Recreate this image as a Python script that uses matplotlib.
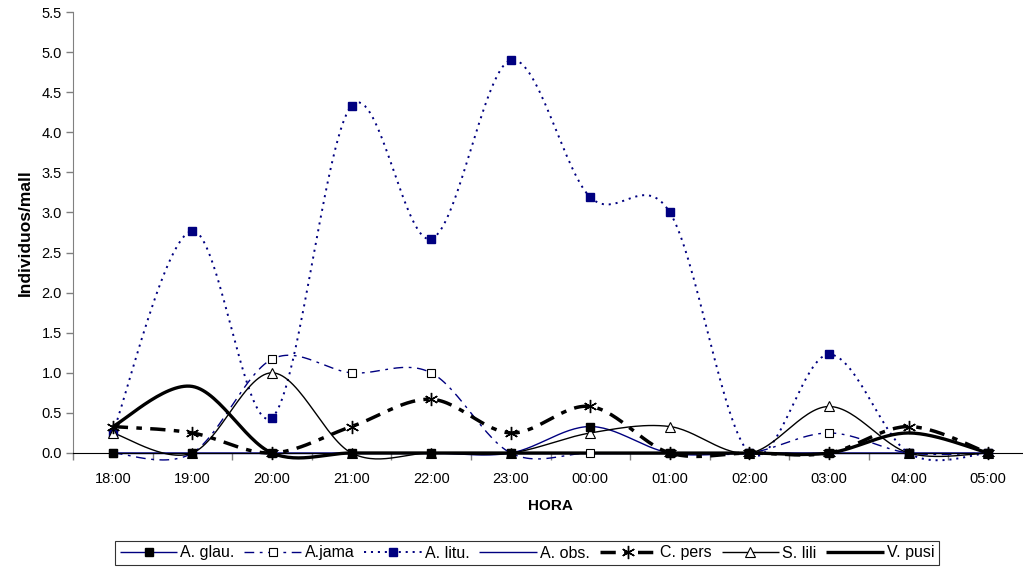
import numpy as np
import matplotlib
matplotlib.use("Agg")
import matplotlib.pyplot as plt
from matplotlib.lines import Line2D

plt.rcParams['font.family'] = ['Liberation Sans', 'DejaVu Sans']
plt.rcParams['lines.scale_dashes'] = False

horas = ["18:00", "19:00", "20:00", "21:00", "22:00", "23:00",
         "00:00", "01:00", "02:00", "03:00", "04:00", "05:00"]

a_glau = [0, 0, 0, 0, 0, 0, 0.33, 0, 0, 0, 0, 0]
a_jama = [0, 0, 1.17, 1.0, 1.0, 0, 0, 0, 0, 0.25, 0, 0]
a_litu = [0.25, 2.77, 0.44, 4.33, 2.67, 4.90, 3.19, 3.0, 0, 1.23, 0, 0]
a_obs = [0, 0, 0, 0, 0, 0, 0, 0, 0, 0, 0, 0]
c_pers = [0.33, 0.25, 0, 0.33, 0.67, 0.25, 0.58, 0, 0, 0, 0.33, 0]
s_lili = [0.25, 0, 1.0, 0, 0, 0, 0.25, 0.33, 0, 0.58, 0, 0]
v_pusi = [0.33, 0.83, 0, 0, 0, 0, 0, 0, 0, 0, 0.25, 0]

NSEG = 30


def smooth(values):
    """Catmull-Rom style Bezier smoothing through every point."""
    y = np.asarray(values, dtype=float)
    n = len(y)
    x = np.arange(n, dtype=float)
    px = np.concatenate([[x[0]], x, [x[-1]]])
    py = np.concatenate([[y[0]], y, [y[-1]]])
    xs, ys = [], []
    t = np.linspace(0, 1, NSEG, endpoint=False)
    for i in range(n - 1):
        p0 = np.array([px[i + 1], py[i + 1]])
        p3 = np.array([px[i + 2], py[i + 2]])
        c1 = p0 + (p3 - np.array([px[i], py[i]])) / 6.0
        c2 = p3 - (np.array([px[i + 3], py[i + 3]]) - p0) / 6.0
        b = ((1 - t) ** 3)[:, None] * p0 + (3 * (1 - t) ** 2 * t)[:, None] * c1 \
            + (3 * (1 - t) * t ** 2)[:, None] * c2 + (t ** 3)[:, None] * p3
        xs.append(b[:, 0])
        ys.append(b[:, 1])
    xs.append([x[-1]])
    ys.append([y[-1]])
    return np.concatenate(xs), np.concatenate(ys)


NAVY = "#000080"

# (name, values, line style, marker style, marker zorder)
series = [
    ("A. glau.", a_glau, dict(color=NAVY, lw=1.0, ls='-'),
     dict(marker='s', ms=6, mfc='black', mec='black'), 3.5),
    ("A.jama", a_jama, dict(color=NAVY, lw=1.0, ls=(0, (7, 4, 2, 4))),
     dict(marker='s', ms=5.5, mfc='white', mec='black', mew=0.8), 3.0),
    ("A. litu.", a_litu, dict(color=NAVY, lw=1.4, ls=(0, (1.5, 3.5))),
     dict(marker='s', ms=6, mfc=NAVY, mec=NAVY), 3.1),
    ("A. obs.", a_obs, dict(color=NAVY, lw=1.0, ls='-'), None, 3.0),
    ("C. pers", c_pers, dict(color='black', lw=2.5, ls=(0, (11, 6, 4, 6))),
     dict(marker=(6, 2, 0), ms=9.5, mec='black', mew=1.0), 3.3),
    ("S. lili", s_lili, dict(color='black', lw=1.0, ls='-'),
     dict(marker='^', ms=6.5, mfc='white', mec='black', mew=0.8), 3.2),
    ("V. pusi", v_pusi, dict(color='black', lw=2.4, ls='-'), None, 3.0),
]

fig = plt.figure(figsize=(10.23, 5.73), dpi=100)
ax = fig.add_axes([73 / 1023, 1 - 453 / 573, (1028 - 73) / 1023, (453 - 12) / 573])

xpos = np.arange(len(horas))
handles = []
for name, vals, lstyle, mstyle, mz in series:
    xs, ys = smooth(vals)
    ax.plot(xs, ys, clip_on=False, solid_capstyle='butt', dash_capstyle='butt',
            zorder=2, **lstyle)
    if mstyle is not None:
        ax.plot(xpos, vals, ls='none', clip_on=False, zorder=mz, **mstyle)
    handles.append(Line2D([], [], label=name, solid_capstyle='butt',
                          dash_capstyle='butt', **lstyle, **(mstyle or {})))

ax.set_xlim(-0.5, len(horas) - 0.5)
ax.set_ylim(0, 5.5)
yt = np.arange(0, 5.51, 0.5)
ax.set_yticks(yt)
ax.set_yticklabels([f"{v:.1f}" for v in yt], fontsize=10.5)
ax.set_xticks(xpos)
ax.set_xticklabels(horas, fontsize=10.5)
ax.set_xticks(np.arange(len(horas) + 1) - 0.5, minor=True)
ax.tick_params(axis='x', which='major', length=0, pad=14)
ax.tick_params(axis='x', which='minor', length=5, color='#808080', width=1)
ax.tick_params(axis='y', length=5, color='#808080', width=1, pad=3)

for side in ('top', 'right'):
    ax.spines[side].set_visible(False)
ax.spines['left'].set_color('#808080')
ax.spines['bottom'].set_color('black')

ax.set_ylabel("Individuos/mall", fontsize=12.5, fontweight='bold', labelpad=6)
ax.set_xlabel("HORA", fontsize=11, fontweight='bold', labelpad=9)

leg = fig.legend(handles=handles, loc='center', ncol=7,
                 bbox_to_anchor=(527 / 1023, 1 - 553 / 573),
                 fontsize=11.5, frameon=True, fancybox=False, handlelength=3.6,
                 handletextpad=0.2, columnspacing=0.6, borderpad=0.3,
                 numpoints=1)
leg.get_frame().set_edgecolor('black')
leg.get_frame().set_linewidth(0.8)

fig.savefig("out.png", dpi=100)
